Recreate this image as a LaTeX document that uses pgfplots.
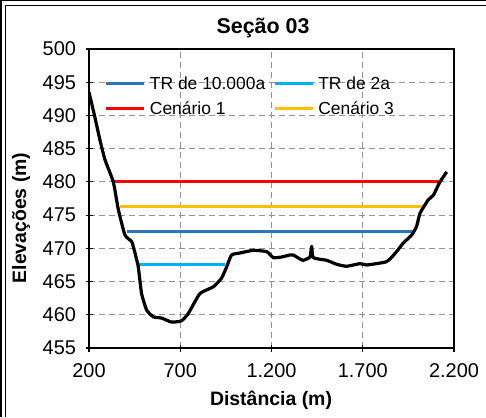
\documentclass[border=0pt]{standalone}
\usepackage{pgfplots}
\pgfplotsset{compat=1.18}
\usepackage{fontspec}
\setmainfont{Liberation Sans}
\definecolor{trblue}{HTML}{2E75B6}
\definecolor{trlight}{HTML}{00B0F0}
\definecolor{cred}{HTML}{FF0000}
\definecolor{cyel}{HTML}{FFC000}
\begin{document}
\begin{tikzpicture}[x=1bp,y=1bp]
\path[use as bounding box] (0,0) rectangle (486,417);
\draw[line width=1.5bp] (0.75,0) -- (0.75,416.25) -- (486,416.25);
\draw[line width=1bp] (5.5,0) -- (5.5,411.5) -- (486,411.5);
\node[font=\fontsize{21.5}{25}\selectfont\bfseries] at (263,389) {Seção 03};
\node[font=\fontsize{19.5}{23}\selectfont\bfseries] at (271,17) {Distância (m)};
\node[font=\fontsize{19.5}{23}\selectfont\bfseries, rotate=90] at (21,199) {Elevações (m)};
\begin{axis}[
  at={(89bp,69bp)}, anchor=south west,
  scale only axis, width=365bp, height=299bp,
  xmin=200, xmax=2200, ymin=455, ymax=500,
  xtick={200,700,1200,1700,2200},
  xticklabels={200,700,1.200,1.700,2.200},
  ytick={455,460,...,500},
  /pgf/number format/assume math mode=true,
  ticklabel style={font=\fontsize{20}{24}\selectfont},
  axis line style={black, line width=1.2bp},
  tick align=center, tick style={black, line width=1.2bp},
  major tick length=7bp,
  xtick pos=bottom, ytick pos=left,
  grid=major,
  grid style={dash pattern=on 6bp off 4bp, color=gray!85, line width=1.1bp},
  xticklabel style={yshift=-9bp},
  yticklabel style={xshift=-6bp},
  legend columns=2,
  legend style={draw=none, fill=none, at={(0.035,0.922)}, anchor=north west,
    font=\fontsize{17.5}{21}\selectfont, row sep=7bp, column sep=2bp,
    /tikz/every even column/.append style={column sep=6bp}},
  legend cell align=left,
  legend image code/.code={\draw[#1] (0bp,0bp) -- (38bp,0bp);},
]
\addplot[trblue, line width=3bp] coordinates {(406,472.6) (1977,472.6)};
\addlegendentry{TR de 10.000a}
\addplot[trlight, line width=3bp] coordinates {(470,467.5) (945,467.5)};
\addlegendentry{TR de 2a}
\addplot[cred, line width=3bp] coordinates {(330,480.0) (2123,480.0)};
\addlegendentry{Cenário 1}
\addplot[cyel, line width=3bp] coordinates {(370,476.3) (2041,476.3)};
\addlegendentry{Cenário 3}
\addplot[black, line width=3.2bp, forget plot, line join=round, smooth, tension=0.3] coordinates {
(200,493.5) (230,490) (260,486.3) (288,483.3) (333,480.0) (361,475.8) (397,472.0)
(434,471.0) (452,469.3) (470,467.2) (488,463.2) (516,460.7) (552,459.7) (598,459.5)
(653,458.9) (707,459.1) (744,460.2) (808,463.2) (881,464.2) (926,465.5) (954,467.2)
(981,469.0) (1027,469.3) (1100,469.7) (1174,469.5) (1210,468.6) (1256,468.7)
(1301,469.0) (1319,469.0) (1356,468.4) (1374,468.2) (1411,468.7) (1420,470.3)
(1429,468.6) (1502,468.2) (1557,467.6) (1612,467.3) (1685,467.7) (1721,467.5)
(1831,468.0) (1885,469.5) (1922,470.8) (1968,472.0) (1995,473.3) (2014,475.3)
(2059,477.3) (2087,478.0) (2123,480.0) (2160,481.5)
};
\end{axis}
\end{tikzpicture}
\end{document}
